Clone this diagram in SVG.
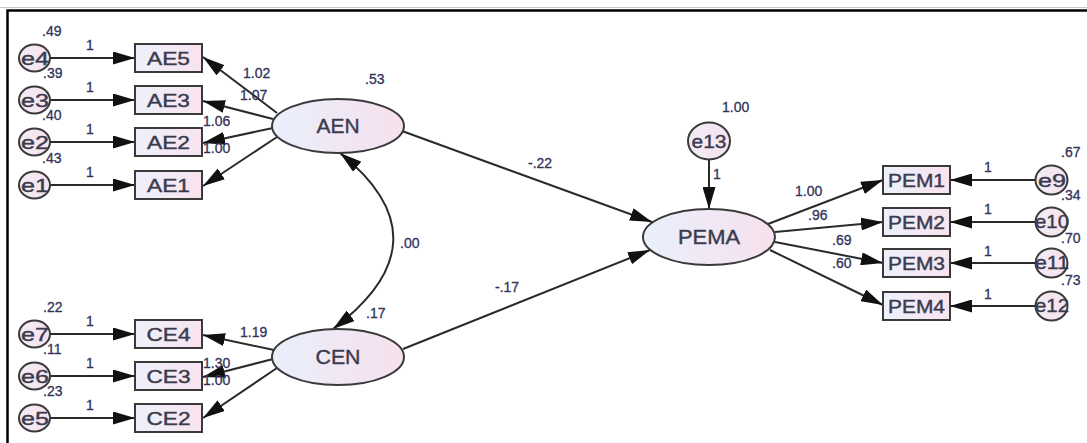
<svg xmlns="http://www.w3.org/2000/svg" width="1087" height="443" viewBox="0 0 1087 443">
  <defs>
    <linearGradient id="gBox" x1="0" y1="0" x2="1" y2="0">
      <stop offset="0" stop-color="#edf1fb"/>
      <stop offset="1" stop-color="#f8e3ee"/>
    </linearGradient>
    <linearGradient id="gLat" x1="0" y1="0" x2="1" y2="0">
      <stop offset="0" stop-color="#e9f0fc"/>
      <stop offset="1" stop-color="#f7e0ed"/>
    </linearGradient>
    <linearGradient id="gErr" x1="0" y1="0" x2="1" y2="0">
      <stop offset="0" stop-color="#f0ecf6"/>
      <stop offset="1" stop-color="#f8e2ee"/>
    </linearGradient>
    <marker id="arr" markerUnits="userSpaceOnUse" viewBox="0 0 22 13" markerWidth="22" markerHeight="13" refX="22" refY="6.5" orient="auto-start-reverse">
      <path d="M0,0 L22,6.5 L0,13 Z" fill="#111"/>
    </marker>
    <style>
      .box { fill: url(#gBox); stroke: #3a3a3a; stroke-width: 2; }
      .lat { fill: url(#gLat); stroke: #3a3a3a; stroke-width: 2; }
      .err { fill: url(#gErr); stroke: #3a3a3a; stroke-width: 2; }
      .lbl { font-family: "Liberation Sans", Arial, sans-serif; fill: #3b3b4e; stroke: #3b3b4e; stroke-width: 0.4; text-anchor: middle; }
      .obs { font-size: 18px; }
      .latt { font-size: 20px; }
      .et { font-size: 19px; }
      .num { font-family: "Liberation Sans", Arial, sans-serif; font-size: 14px; fill: #33335a; stroke: #33335a; stroke-width: 0.3; }
      .path { fill: none; stroke: #2a2a2a; stroke-width: 2; }
      .frame { stroke: #000; stroke-width: 2.5; fill: none; }
    </style>
  </defs>

  <rect x="0" y="0" width="1087" height="443" fill="#ffffff"/>
  <!-- outer frame (top and left edges visible) -->
  <line x1="0" y1="7.5" x2="1087" y2="7.5" stroke="#c8c8c8" stroke-width="1"/>
  <path class="frame" d="M7.5,443 V10.5 H1087"/>

  <!-- connectors -->
  <g id="connectors">
    <!-- error terms to indicators, left -->
    <line class="path" x1="50" y1="58" x2="135" y2="58" marker-end="url(#arr)"/>
    <line class="path" x1="50" y1="100" x2="135" y2="100" marker-end="url(#arr)"/>
    <line class="path" x1="50" y1="142" x2="135" y2="142" marker-end="url(#arr)"/>
    <line class="path" x1="50" y1="185" x2="135" y2="185" marker-end="url(#arr)"/>
    <line class="path" x1="50" y1="334" x2="135" y2="334" marker-end="url(#arr)"/>
    <line class="path" x1="50" y1="376" x2="135" y2="376" marker-end="url(#arr)"/>
    <line class="path" x1="50" y1="418" x2="135" y2="418" marker-end="url(#arr)"/>
    <!-- AEN loadings -->
    <line class="path" x1="277" y1="113" x2="203" y2="57" marker-end="url(#arr)"/>
    <line class="path" x1="273" y1="119" x2="203" y2="101" marker-end="url(#arr)"/>
    <line class="path" x1="273" y1="128" x2="203" y2="143" marker-end="url(#arr)"/>
    <line class="path" x1="277" y1="137" x2="203" y2="186" marker-end="url(#arr)"/>
    <!-- CEN loadings -->
    <line class="path" x1="274" y1="350" x2="203" y2="335" marker-end="url(#arr)"/>
    <line class="path" x1="273" y1="359" x2="203" y2="377" marker-end="url(#arr)"/>
    <line class="path" x1="277" y1="368" x2="203" y2="418" marker-end="url(#arr)"/>
    <!-- covariance AEN <-> CEN -->
    <path class="path" d="M340,153 Q450,241 333,329" marker-start="url(#arr)" marker-end="url(#arr)"/>
    <!-- structural paths -->
    <line class="path" x1="402" y1="131" x2="652" y2="222" marker-end="url(#arr)"/>
    <line class="path" x1="403" y1="349" x2="650" y2="250" marker-end="url(#arr)"/>
    <line class="path" x1="709" y1="160" x2="709" y2="209" marker-end="url(#arr)"/>
    <!-- PEMA loadings -->
    <line class="path" x1="768" y1="224" x2="883" y2="180" marker-end="url(#arr)"/>
    <line class="path" x1="775" y1="232" x2="883" y2="222" marker-end="url(#arr)"/>
    <line class="path" x1="775" y1="242" x2="883" y2="263" marker-end="url(#arr)"/>
    <line class="path" x1="770" y1="250" x2="883" y2="305" marker-end="url(#arr)"/>
    <!-- error terms to indicators, right -->
    <line class="path" x1="1035" y1="180" x2="950" y2="180" marker-end="url(#arr)"/>
    <line class="path" x1="1035" y1="222" x2="950" y2="222" marker-end="url(#arr)"/>
    <line class="path" x1="1035" y1="263" x2="950" y2="263" marker-end="url(#arr)"/>
    <line class="path" x1="1035" y1="306" x2="950" y2="306" marker-end="url(#arr)"/>
  </g>

  <!-- path labels -->
  <g id="path-labels" class="num">
    <text x="86" y="50">1</text>
    <text x="86" y="92">1</text>
    <text x="86" y="134">1</text>
    <text x="86" y="177">1</text>
    <text x="86" y="326">1</text>
    <text x="86" y="368">1</text>
    <text x="86" y="410">1</text>
    <text x="243" y="78">1.02</text>
    <text x="240" y="100">1.07</text>
    <text x="203" y="126">1.06</text>
    <text x="203" y="153">1.00</text>
    <text x="240" y="337">1.19</text>
    <text x="203" y="368">1.30</text>
    <text x="203" y="385">1.00</text>
    <text x="400" y="248">.00</text>
    <text x="528" y="168">-.22</text>
    <text x="495" y="292">-.17</text>
    <text x="713" y="179">1</text>
    <text x="795" y="196">1.00</text>
    <text x="808" y="220">.96</text>
    <text x="832" y="245">.69</text>
    <text x="832" y="268">.60</text>
    <text x="984" y="172">1</text>
    <text x="984" y="214">1</text>
    <text x="984" y="256">1</text>
    <text x="984" y="299">1</text>
  </g>

  <!-- error terms, left -->
  <g id="e4"><ellipse class="err" cx="34.5" cy="58" rx="15.5" ry="13.5"/><text class="lbl et" x="35" y="65" textLength="28" lengthAdjust="spacingAndGlyphs">e4</text><text class="num" x="42" y="36">.49</text></g>
  <g id="e3"><ellipse class="err" cx="34.5" cy="100" rx="15.5" ry="13.5"/><text class="lbl et" x="35" y="107" textLength="28" lengthAdjust="spacingAndGlyphs">e3</text><text class="num" x="43" y="78">.39</text></g>
  <g id="e2"><ellipse class="err" cx="34.5" cy="142" rx="15.5" ry="13.5"/><text class="lbl et" x="35" y="149" textLength="28" lengthAdjust="spacingAndGlyphs">e2</text><text class="num" x="42" y="120">.40</text></g>
  <g id="e1"><ellipse class="err" cx="34.5" cy="185" rx="15.5" ry="13.5"/><text class="lbl et" x="35" y="192" textLength="28" lengthAdjust="spacingAndGlyphs">e1</text><text class="num" x="42" y="163">.43</text></g>
  <g id="e7"><ellipse class="err" cx="34.5" cy="334" rx="15.5" ry="13.5"/><text class="lbl et" x="35" y="341" textLength="28" lengthAdjust="spacingAndGlyphs">e7</text><text class="num" x="43" y="312">.22</text></g>
  <g id="e6"><ellipse class="err" cx="34.5" cy="376" rx="15.5" ry="13.5"/><text class="lbl et" x="35" y="383" textLength="28" lengthAdjust="spacingAndGlyphs">e6</text><text class="num" x="43" y="354">.11</text></g>
  <g id="e5"><ellipse class="err" cx="34.5" cy="418" rx="15.5" ry="13.5"/><text class="lbl et" x="35" y="425" textLength="28" lengthAdjust="spacingAndGlyphs">e5</text><text class="num" x="43" y="396">.23</text></g>

  <!-- observed indicators, left -->
  <g id="AE5"><rect class="box" x="135" y="44" width="67" height="28"/><text class="lbl obs" x="168.5" y="64.5" textLength="43" lengthAdjust="spacingAndGlyphs">AE5</text></g>
  <g id="AE3"><rect class="box" x="135" y="86" width="67" height="28"/><text class="lbl obs" x="168.5" y="106.5" textLength="43" lengthAdjust="spacingAndGlyphs">AE3</text></g>
  <g id="AE2"><rect class="box" x="135" y="128" width="67" height="28"/><text class="lbl obs" x="168.5" y="148.5" textLength="43" lengthAdjust="spacingAndGlyphs">AE2</text></g>
  <g id="AE1"><rect class="box" x="135" y="171" width="67" height="28"/><text class="lbl obs" x="168.5" y="191.5" textLength="43" lengthAdjust="spacingAndGlyphs">AE1</text></g>
  <g id="CE4"><rect class="box" x="135" y="320" width="67" height="28"/><text class="lbl obs" x="168.5" y="340.5" textLength="44" lengthAdjust="spacingAndGlyphs">CE4</text></g>
  <g id="CE3"><rect class="box" x="135" y="362" width="67" height="28"/><text class="lbl obs" x="168.5" y="382.5" textLength="44" lengthAdjust="spacingAndGlyphs">CE3</text></g>
  <g id="CE2"><rect class="box" x="135" y="404" width="67" height="28"/><text class="lbl obs" x="168.5" y="424.5" textLength="44" lengthAdjust="spacingAndGlyphs">CE2</text></g>

  <!-- latent variables -->
  <g id="AEN"><ellipse class="lat" cx="338" cy="126" rx="66" ry="27"/><text class="lbl latt" x="338" y="133" textLength="43" lengthAdjust="spacingAndGlyphs">AEN</text><text class="num" x="365" y="84">.53</text></g>
  <g id="CEN"><ellipse class="lat" cx="338" cy="357" rx="66" ry="28"/><text class="lbl latt" x="338" y="364" textLength="45" lengthAdjust="spacingAndGlyphs">CEN</text><text class="num" x="366" y="318">.17</text></g>
  <g id="PEMA"><ellipse class="lat" cx="709" cy="237" rx="66" ry="28"/><text class="lbl latt" x="709" y="244" textLength="62" lengthAdjust="spacingAndGlyphs">PEMA</text></g>
  <g id="e13"><ellipse class="err" cx="709" cy="141" rx="21" ry="18.5"/><text class="lbl et" x="709" y="148" textLength="35" lengthAdjust="spacingAndGlyphs">e13</text><text class="num" x="722" y="112">1.00</text></g>

  <!-- observed indicators, right -->
  <g id="PEM1"><rect class="box" x="883" y="166" width="67" height="28"/><text class="lbl obs" x="916.5" y="186.5" textLength="57" lengthAdjust="spacingAndGlyphs">PEM1</text></g>
  <g id="PEM2"><rect class="box" x="883" y="208" width="67" height="28"/><text class="lbl obs" x="916.5" y="228.5" textLength="57" lengthAdjust="spacingAndGlyphs">PEM2</text></g>
  <g id="PEM3"><rect class="box" x="883" y="249" width="67" height="28"/><text class="lbl obs" x="916.5" y="269.5" textLength="57" lengthAdjust="spacingAndGlyphs">PEM3</text></g>
  <g id="PEM4"><rect class="box" x="883" y="292" width="67" height="28"/><text class="lbl obs" x="916.5" y="312.5" textLength="57" lengthAdjust="spacingAndGlyphs">PEM4</text></g>

  <!-- error terms, right -->
  <g id="e9"><ellipse class="err" cx="1051.5" cy="180" rx="16" ry="14.5"/><text class="lbl et" x="1052" y="187" textLength="28" lengthAdjust="spacingAndGlyphs">e9</text><text class="num" x="1061" y="157">.67</text></g>
  <g id="e10"><ellipse class="err" cx="1051.5" cy="222" rx="16" ry="14.5"/><text class="lbl et" x="1052" y="228" textLength="34" lengthAdjust="spacingAndGlyphs">e10</text><text class="num" x="1061" y="200">.34</text></g>
  <g id="e11"><ellipse class="err" cx="1051.5" cy="263" rx="16" ry="14.5"/><text class="lbl et" x="1052" y="269" textLength="34" lengthAdjust="spacingAndGlyphs">e11</text><text class="num" x="1061" y="243">.70</text></g>
  <g id="e12"><ellipse class="err" cx="1051.5" cy="306" rx="16" ry="14.5"/><text class="lbl et" x="1052" y="312" textLength="34" lengthAdjust="spacingAndGlyphs">e12</text><text class="num" x="1061" y="285">.73</text></g>
</svg>
